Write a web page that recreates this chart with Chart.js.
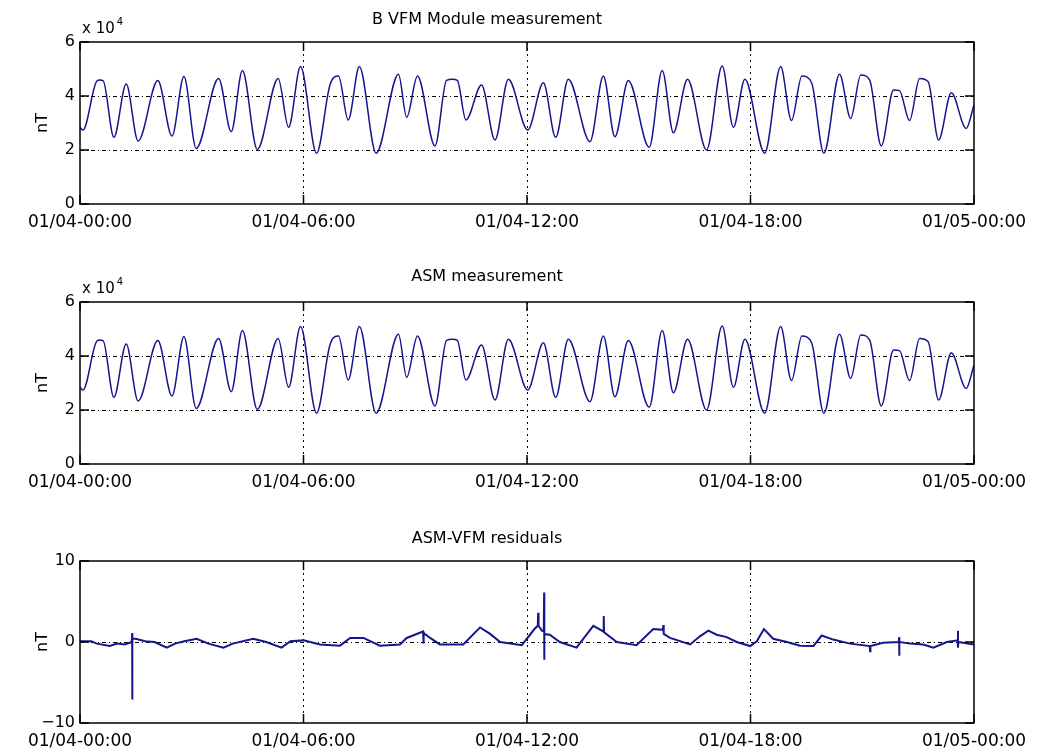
<!DOCTYPE html>
<html><head><meta charset="utf-8">
<script src="https://cdn.jsdelivr.net/npm/chart.js@4/dist/chart.umd.min.js"></script>
<style>
html,body{margin:0;padding:0;background:#fff;}
#wrap{position:relative;width:1045px;height:754px;overflow:hidden;}
canvas{position:absolute;left:0;}
</style></head><body>
<div id="wrap">
<canvas id="c1" width="1045" height="250" style="top:0px"></canvas>
<canvas id="c2" width="1045" height="260" style="top:250px"></canvas>
<canvas id="c3" width="1045" height="244" style="top:510px"></canvas>
</div>
<script>
// ---- data (hours since 01/04-00:00) ----
const timeLabels = ['01/04-00:00','01/04-06:00','01/04-12:00','01/04-18:00','01/05-00:00'];
const panelTitles = ['B VFM Module measurement','ASM measurement','ASM-VFM residuals'];

const vfmHours = [0.00,0.08,0.45,0.53,0.62,0.91,1.24,1.56,2.09,2.47,2.79,3.12,3.72,4.06,4.36,4.76,5.32,5.60,5.92,
  6.35,6.71,6.94,7.20,7.50,7.95,8.55,8.77,9.06,9.53,9.84,10.00,10.13,10.36,10.78,11.14,11.50,
  12.02,12.44,12.77,13.11,13.69,14.05,14.36,14.72,15.28,15.63,15.93,16.31,16.82,17.24,17.54,17.85,
  18.38,18.81,19.10,19.38,19.64,19.97,20.39,20.69,20.96,21.20,21.51,21.84,22.00,22.27,22.54,22.77,23.05,23.39,23.79,24.00];
const vfmModule = [28400,27400,45500,45900,45700,24700,44400,23300,45700,25200,47200,20600,46500,26800,49400,20200,46500,28400,50900,
  18800,44100,47400,31100,50900,18800,48100,32100,47400,21500,45800,46200,45800,31100,44100,23700,46200,
  27400,44900,24700,46200,23100,47400,24900,45700,21000,49400,26400,46200,20000,51100,28400,46200,
  18800,50900,30900,47400,44900,18800,48100,31700,47800,45900,21500,42200,42000,30900,46500,45300,23700,41200,28000,36700];
// ASM module is indistinguishable from VFM at the 10^4 nT scale
const asmHours = vfmHours;
const asmModule = vfmModule;

const residHours = [0.00,0.30,0.45,0.80,1.00,1.20,1.39,1.40,1.40,1.41,1.49,1.75,2.00,2.33,2.55,2.80,3.13,3.45,3.85,4.10,4.65,5.00,5.41,5.65,6.00,
  6.44,6.98,7.25,7.61,8.05,8.59,8.77,9.21,9.22,9.23,9.40,9.66,10.29,10.74,11.01,11.28,11.86,12.20,12.29,12.30,12.31,12.40,12.45,12.46,12.46,12.47,
  12.61,12.88,13.33,13.78,14.05,14.06,14.07,14.41,14.94,15.39,15.65,15.66,15.67,15.84,16.38,16.64,16.87,17.09,17.36,17.63,17.99,18.17,18.36,18.61,
  18.98,19.33,19.69,19.91,20.22,20.67,21.20,21.21,21.22,21.56,21.98,21.99,21.99,22.00,22.28,22.64,22.91,23.27,23.56,23.57,23.57,23.58,24.00];
const residValues = [0.1,0.1,-0.2,-0.5,-0.2,-0.3,0.0,1.1,-7.1,0.4,0.4,0.1,0.0,-0.7,-0.2,0.1,0.4,-0.2,-0.7,-0.2,0.4,0.0,-0.7,0.1,0.2,
  -0.3,-0.45,0.5,0.5,-0.45,-0.3,0.5,1.3,-0.2,1.1,0.5,-0.3,-0.3,1.8,1.0,0.0,-0.4,1.6,2.0,3.6,2.0,1.4,1.3,6.1,-2.2,1.0,
  0.9,0.0,-0.7,2.0,1.3,3.2,1.2,0.0,-0.4,1.6,1.5,2.1,1.0,0.5,-0.3,0.7,1.4,0.9,0.6,0.0,-0.5,0.1,1.6,0.4,
  0.0,-0.45,-0.5,0.8,0.3,-0.2,-0.5,-1.15,-0.5,-0.1,0.0,0.6,-1.7,0.0,-0.2,-0.3,-0.7,0.0,0.2,1.4,-0.7,0.0,-0.3];

const lineColor = '#15158e';
Chart.defaults.font.family = "'DejaVu Sans', sans-serif";
Chart.defaults.color = '#000';

const framePlugin = {
  id: 'matlabFrame',
  afterDraw(chart, args, opts) {
    const {ctx, chartArea: a, scales: {x, y}} = chart;
    ctx.save();
    ctx.setLineDash([]);
    ctx.strokeStyle = '#000';
    ctx.lineWidth = 1.5;
    ctx.strokeRect(a.left, a.top, a.right - a.left, a.bottom - a.top);
    const tl = 9;
    ctx.beginPath();
    x.ticks.forEach(t => {
      const px = x.getPixelForValue(t.value);
      ctx.moveTo(px, a.bottom); ctx.lineTo(px, a.bottom - tl);
      ctx.moveTo(px, a.top); ctx.lineTo(px, a.top + tl);
    });
    y.ticks.forEach(t => {
      const py = y.getPixelForValue(t.value);
      ctx.moveTo(a.left, py); ctx.lineTo(a.left + tl, py);
      ctx.moveTo(a.right, py); ctx.lineTo(a.right - tl, py);
    });
    ctx.stroke();
    if (opts && opts.exponent) {
      ctx.fillStyle = '#000';
      ctx.textBaseline = 'middle';
      ctx.textAlign = 'left';
      ctx.font = "15px 'DejaVu Sans'";
      const base = 'x 10';
      ctx.fillText(base, a.left + 2, a.top - 13);
      const w = ctx.measureText(base).width;
      ctx.font = "10px 'DejaVu Sans'";
      ctx.fillText(opts.exponent, a.left + 4 + w, a.top - 20);
    }
    ctx.restore();
  }
};

function makePanel(id, cfg) {
  const canvas = document.getElementById(id);
  const H = canvas.height;
  const gridColor = (c) => {
    const s = c.scale;
    return (c.tick && (c.tick.value === s.min || c.tick.value === s.max)) ? 'rgba(0,0,0,0)' : '#000';
  };
  return new Chart(canvas, {
    type: 'line',
    data: {
      datasets: [{
        data: cfg.hours.map((h, i) => ({x: h, y: cfg.values[i]})),
        borderColor: lineColor,
        borderWidth: cfg.lineWidth,
        pointRadius: 0,
        fill: false,
        tension: 0,
        cubicInterpolationMode: cfg.smooth ? 'monotone' : 'default'
      }]
    },
    options: {
      responsive: false,
      animation: false,
      devicePixelRatio: 1,
      layout: {padding: {left: 0, right: 1045 - 974, top: 0, bottom: 0}},
      plugins: {
        legend: {display: false},
        tooltip: {enabled: false},
        title: {
          display: true, text: cfg.title, color: '#000',
          font: {size: 16, weight: 'normal'},
          padding: {top: cfg.titleTop, bottom: cfg.areaTop - cfg.titleTop - 19.2}
        },
        matlabFrame: {exponent: cfg.exponent || null}
      },
      scales: {
        x: {
          type: 'linear', min: 0, max: 24,
          afterFit: (s) => { s.height = H - cfg.areaBottom; },
          ticks: {
            stepSize: 6, autoSkip: false, maxRotation: 0, padding: 8,
            font: {size: 17}, color: '#000',
            callback: (v) => timeLabels[Math.round(v / 6)]
          },
          grid: {color: gridColor, lineWidth: 1, drawTicks: false},
          border: {display: false, dash: [2, 4]}
        },
        y: {
          min: cfg.yMin, max: cfg.yMax,
          afterFit: (s) => { s.width = 80; },
          ticks: {
            stepSize: cfg.yStep, padding: 5, font: {size: 16}, color: '#000',
            callback: cfg.yFmt
          },
          title: {display: true, text: 'nT', font: {size: 16}, color: '#000', padding: {top: 33, bottom: 0}},
          grid: {color: gridColor, lineWidth: 1, drawTicks: false},
          border: {display: false, dash: [4, 3, 1, 3]}
        }
      }
    },
    plugins: [framePlugin]
  });
}

const fmt4 = (v) => String(Math.round(v / 1e4));
makePanel('c1', {hours: vfmHours, values: vfmModule, title: panelTitles[0], titleTop: 10, areaTop: 42, areaBottom: 204,
  yMin: 0, yMax: 60000, yStep: 20000, yFmt: fmt4, exponent: '4', smooth: true, lineWidth: 1.5});
makePanel('c2', {hours: asmHours, values: asmModule, title: panelTitles[1], titleTop: 17, areaTop: 52, areaBottom: 214,
  yMin: 0, yMax: 60000, yStep: 20000, yFmt: fmt4, exponent: '4', smooth: true, lineWidth: 1.5});
makePanel('c3', {hours: residHours, values: residValues, title: panelTitles[2], titleTop: 19, areaTop: 51, areaBottom: 213,
  yMin: -10, yMax: 10, yStep: 10, yFmt: (v) => v < 0 ? '\u2212' + Math.abs(v) : String(v), smooth: false, lineWidth: 2});
</script>
</body></html>
